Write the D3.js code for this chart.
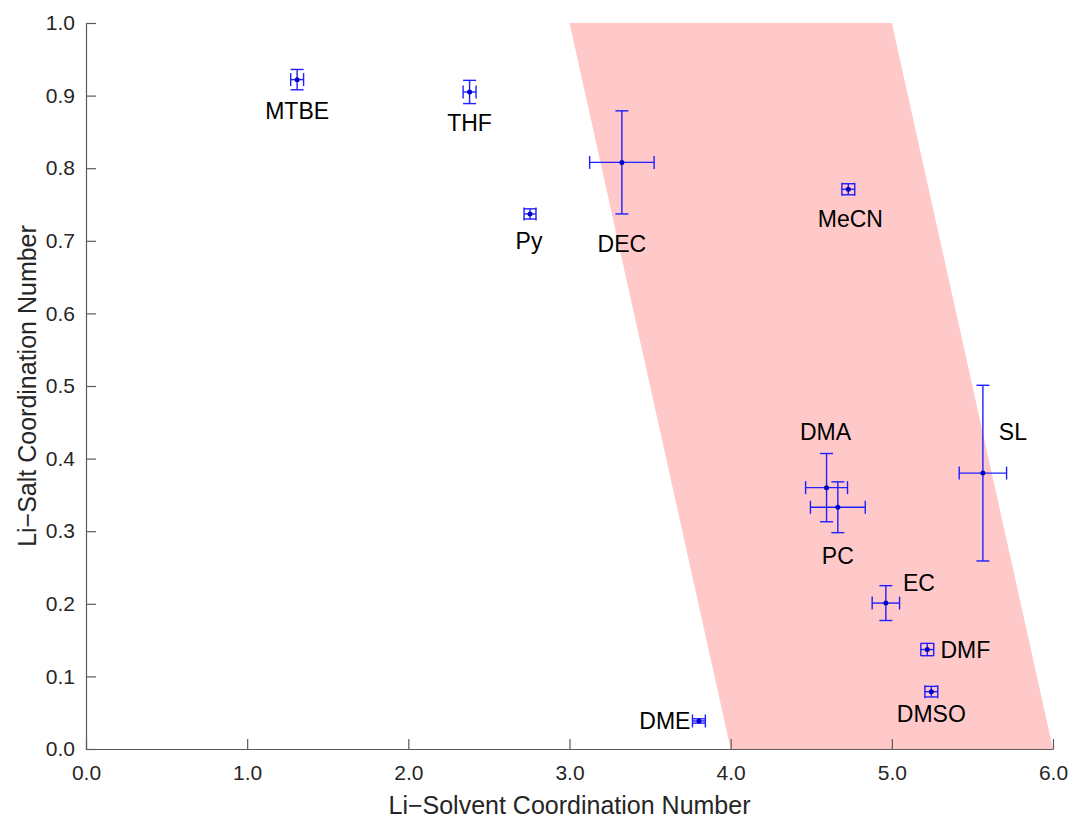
<!DOCTYPE html>
<html>
<head>
<meta charset="utf-8">
<script src="https://cdn.jsdelivr.net/npm/d3@7"></script>
<style>
  body { margin: 0; background: #fff; }
  svg { font-family: "Liberation Sans", Arial, sans-serif; }
</style>
</head>
<body>
<div id="chart"></div>
<script>
// Solvent data
const solvents = ['MTBE', 'THF', 'Py', 'DEC', 'MeCN', 'DMA', 'PC', 'SL', 'EC', 'DMF', 'DMSO', 'DME'];
const solventCN = [1.31, 2.38, 2.755, 3.325, 4.73, 4.595, 4.665, 5.565, 4.963, 5.22, 5.245, 3.803];
const solventErr = [0.04, 0.04, 0.037, 0.2, 0.04, 0.13, 0.17, 0.147, 0.085, 0.04, 0.04, 0.04];
const saltCN = [0.922, 0.905, 0.737, 0.808, 0.771, 0.36, 0.333, 0.38, 0.201, 0.137, 0.079, 0.0386];
const saltErr = [0.014, 0.016, 0.007, 0.071, 0.0076, 0.047, 0.035, 0.121, 0.024, 0.0085, 0.0073, 0.003];

// shaded band corners (solvent CN, salt CN)
const bandX = [3.0, 5.0, 6.0, 4.0];
const bandY = [1.0, 1.0, 0.0, 0.0];

const xTicks = [0, 1, 2, 3, 4, 5, 6];
const yTicks = [0, 0.1, 0.2, 0.3, 0.4, 0.5, 0.6, 0.7, 0.8, 0.9, 1.0];

// label placement relative to each point (pixels)
const labelOffset = {
  MTBE: [0, 31], THF: [0, 31], Py: [-1, 27], DEC: [0, 81], MeCN: [2, 29],
  DMA: [-1, -56], PC: [0, 48], SL: [30, -41], EC: [33, -20], DMF: [38, 0],
  DMSO: [0, 22], DME: [-34, 0],
};

const width = 1073;
const height = 820;
const blue = '#1f1fff';

const svg = d3.select('#chart')
  .append('svg')
  .attr('width', width)
  .attr('height', height);

const x = d3.scaleLinear().domain([0, 6]).range([86, 1053]);
const y = d3.scaleLinear().domain([0, 1]).range([749, 23]);

const points = solvents.map((name, i) => ({
  name,
  x: solventCN[i],
  xe: solventErr[i],
  y: saltCN[i],
  ye: saltErr[i],
}));

// Shaded region
svg.append('polygon')
  .attr('points', bandX.map((bx, i) => `${x(bx)},${y(bandY[i])}`).join(' '))
  .attr('fill', '#ffc9c9');

// Axes (MATLAB style, inward ticks, no box)
const xAxis = d3.axisBottom(x)
  .tickValues(xTicks)
  .tickFormat(d3.format('.1f'))
  .tickSizeInner(-10)
  .tickSizeOuter(0)
  .tickPadding(16);

const yAxis = d3.axisLeft(y)
  .tickValues(yTicks)
  .tickFormat(d3.format('.1f'))
  .tickSizeInner(-10)
  .tickSizeOuter(0)
  .tickPadding(11);

const gx = svg.append('g')
  .attr('transform', `translate(0, ${y(0)})`)
  .call(xAxis);

const gy = svg.append('g')
  .attr('transform', `translate(${x(0)}, 0)`)
  .call(yAxis);

[gx, gy].forEach((g) => {
  g.select('.domain').attr('stroke', '#5a5a5a').attr('stroke-width', 1.2);
  g.selectAll('.tick line').attr('stroke', '#5a5a5a').attr('stroke-width', 1.2);
  g.selectAll('.tick text')
    .attr('fill', '#262626')
    .style('font-size', '21px');
});

// Error bars
const capHalf = 6.5;
const eb = svg.append('g')
  .attr('stroke', blue)
  .attr('stroke-width', 1.4)
  .attr('fill', 'none');

points.forEach((p) => {
  const cx = x(p.x);
  const cy = y(p.y);
  const x0 = x(p.x - p.xe);
  const x1 = x(p.x + p.xe);
  const y0 = y(p.y - p.ye);
  const y1 = y(p.y + p.ye);
  const g = eb.append('g');
  // vertical
  g.append('line').attr('x1', cx).attr('x2', cx).attr('y1', y0).attr('y2', y1);
  g.append('line').attr('x1', cx - capHalf).attr('x2', cx + capHalf).attr('y1', y0).attr('y2', y0);
  g.append('line').attr('x1', cx - capHalf).attr('x2', cx + capHalf).attr('y1', y1).attr('y2', y1);
  // horizontal
  g.append('line').attr('x1', x0).attr('x2', x1).attr('y1', cy).attr('y2', cy);
  g.append('line').attr('x1', x0).attr('x2', x0).attr('y1', cy - capHalf).attr('y2', cy + capHalf);
  g.append('line').attr('x1', x1).attr('x2', x1).attr('y1', cy - capHalf).attr('y2', cy + capHalf);
});

// Points
svg.append('g')
  .selectAll('circle')
  .data(points)
  .enter()
  .append('circle')
  .attr('cx', (d) => x(d.x))
  .attr('cy', (d) => y(d.y))
  .attr('r', 2.5)
  .attr('fill', '#0000c8');

// Labels
svg.append('g')
  .selectAll('text')
  .data(points)
  .enter()
  .append('text')
  .attr('x', (d) => x(d.x) + labelOffset[d.name][0])
  .attr('y', (d) => y(d.y) + labelOffset[d.name][1])
  .attr('text-anchor', 'middle')
  .attr('dy', '0.36em')
  .style('font-size', '23px')
  .attr('fill', '#000')
  .text((d) => d.name);

// Axis titles
svg.append('text')
  .attr('x', (x(0) + x(6)) / 2)
  .attr('y', 805)
  .attr('dy', '0.36em')
  .attr('text-anchor', 'middle')
  .style('font-size', '25px')
  .attr('fill', '#262626')
  .text('Li\u2212Solvent Coordination Number');

svg.append('text')
  .attr('transform', `translate(27, ${(y(0) + y(1)) / 2}) rotate(-90)`)
  .attr('dy', '0.36em')
  .attr('text-anchor', 'middle')
  .style('font-size', '25px')
  .attr('fill', '#262626')
  .text('Li\u2212Salt Coordination Number');
</script>
</body>
</html>
